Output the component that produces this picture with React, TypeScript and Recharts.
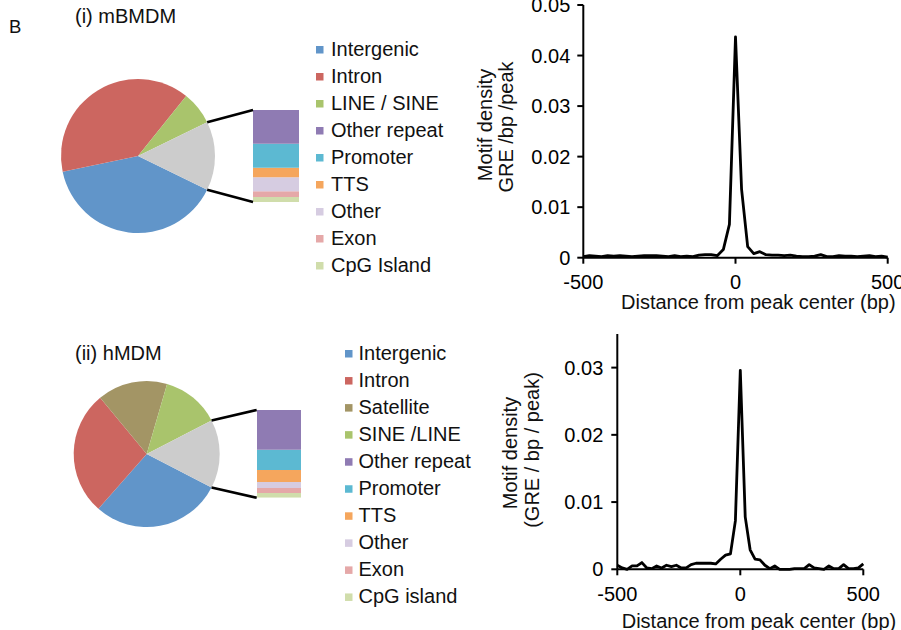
import React from 'react';
import { PieChart, Pie, Cell, BarChart, Bar, XAxis, YAxis, LineChart, Line } from 'recharts';

const FONT = '"Liberation Sans", Arial, Helvetica, sans-serif';
const INK = '#111';

// ---------- (i) mBMDM genomic distribution ----------
const mbmdmPieLabels = ['Intergenic', 'Intron', 'LINE / SINE'];
const mbmdmPieValues = [39.5, 39.1, 7.0];
const mbmdmPieColors = ['#6195C9', '#CC6660', '#A9C46C'];
const mbmdmBarLabels = ['Other repeat', 'Promoter', 'TTS', 'Other', 'Exon', 'CpG Island'];
const mbmdmBarValues = [5.3, 3.8, 1.5, 2.2, 0.9, 0.8];

// ---------- (ii) hMDM genomic distribution ----------
const hmdmPieLabels = ['Intergenic', 'Intron', 'Satellite', 'SINE /LINE'];
const hmdmPieValues = [28.9, 27.5, 15.5, 12.9];
const hmdmPieColors = ['#6195C9', '#CC6660', '#A39565', '#A9C46C'];
const hmdmBarLabels = ['Other repeat', 'Promoter', 'TTS', 'Other', 'Exon', 'CpG island'];
const hmdmBarValues = [6.9, 3.5, 2.1, 1.0, 0.9, 0.8];

const barColors = ['#8F7BB3', '#5CB9D2', '#F5A65D', '#D6CCE1', '#E5A8A8', '#D0DDAB'];
const otherColor = '#CCCCCC';

// ---------- Motif density profiles ----------
const distanceBp = [
  -500, -480, -460, -440, -420, -400, -380, -360, -340, -320, -300, -280, -260, -240, -220, -200,
  -180, -160, -140, -120, -100, -80, -60, -40, -20, 0, 20, 40, 60, 80, 100, 120, 140, 160, 180,
  200, 220, 240, 260, 280, 300, 320, 340, 360, 380, 400, 420, 440, 460, 480, 500,
];
const mbmdmDensity = [
  0.0002, 0.0004, 0.0003, 0.0002, 0.0004, 0.0003, 0.0004, 0.0003, 0.0002, 0.0003, 0.0004, 0.0004,
  0.0004, 0.0003, 0.0002, 0.0004, 0.0002, 0.0003, 0.0002, 0.0005, 0.0006, 0.0006, 0.0004, 0.0016,
  0.0066, 0.0437, 0.0135, 0.0022, 0.0008, 0.0012, 0.0006, 0.0005, 0.0005, 0.0004, 0.0005, 0.0003,
  0.0002, 0.0002, 0.0003, 0.0006, 0.0002, 0.0002, 0.0004, 0.0003, 0.0003, 0.0002, 0.0003, 0.0004,
  0.0002, 0.0003, 0.0001,
];
const hmdmDensity = [
  0.0006, 0.0002, 0.0, 0.0005, 0.0005, 0.001, 0.0002, 0.0001, 0.0005, 0.0002, 0.0006, 0.0004,
  0.0006, 0.0002, 0.0002, 0.0007, 0.0009, 0.0009, 0.0009, 0.0009, 0.0008, 0.0015, 0.0021, 0.0023,
  0.0072, 0.0296, 0.0078, 0.0029, 0.0015, 0.0014, 0.0006, 0.0001, 0.0005, 0.0, 0.0, 0.0, 0.0001,
  0.0001, 0.0001, 0.0007, 0.0002, 0.0001, 0.0, 0.0005, 0.0001, 0.0001, 0.0007, 0.0001, 0.0001,
  0.0002, 0.0008,
];
const xTicks = [-500, 0, 500];
const mbmdmYTicks = [0, 0.01, 0.02, 0.03, 0.04, 0.05];
const hmdmYTicks = [0, 0.01, 0.02, 0.03];

const axisStyle = { stroke: '#000', strokeWidth: 2 };
const tickStyle = { fill: '#000', fontSize: 20, fontFamily: FONT };

type Geo = {
  pieLeft: number; pieTop: number; pieW: number; pieH: number; cx: number; cy: number; r: number;
  barLeft: number; barTop: number; barW: number; barH: number;
  sqX: number; textX: number; legY0: number; legStep: number;
};

function PiePanel(props: {
  pieLabels: string[]; pieValues: number[]; pieColors: string[];
  barLabels: string[]; barValues: number[]; g: Geo;
}) {
  const { pieLabels, pieValues, pieColors, barLabels, barValues, g } = props;
  const otherSum = barValues.reduce((a, b) => a + b, 0);
  const total = pieValues.reduce((a, b) => a + b, 0) + otherSum;
  const half = (otherSum / total) * 180;
  const pieData = [
    ...pieLabels.map((l, i) => ({ name: l, value: pieValues[i], color: pieColors[i] })),
    { name: 'Other', value: otherSum, color: otherColor },
  ];
  const barRow: Record<string, any> = { name: 'breakdown' };
  barLabels.forEach((_, i) => { barRow['s' + i] = barValues[i]; });
  const order = barLabels.map((_, i) => i).reverse();

  const rad = (half * Math.PI) / 180;
  const ax = g.pieLeft + g.cx + g.r * Math.cos(rad);
  const ayTop = g.pieTop + g.cy - g.r * Math.sin(rad);
  const ayBot = g.pieTop + g.cy + g.r * Math.sin(rad);

  const legend = [
    ...pieLabels.map((l, i) => ({ l, c: pieColors[i] })),
    ...barLabels.map((l, i) => ({ l, c: barColors[i] })),
  ];

  return (
    <>
      <div style={{ position: 'absolute', left: g.pieLeft, top: g.pieTop }}>
        <PieChart width={g.pieW} height={g.pieH} margin={{ top: 0, right: 0, bottom: 0, left: 0 }}>
          <Pie
            data={pieData}
            dataKey="value"
            cx={g.cx}
            cy={g.cy}
            outerRadius={g.r}
            innerRadius={0}
            startAngle={-half}
            endAngle={-half - 360}
            stroke="none"
            isAnimationActive={false}
          >
            {pieData.map((d, i) => (
              <Cell key={i} fill={d.color} />
            ))}
          </Pie>
        </PieChart>
      </div>
      <div style={{ position: 'absolute', left: g.barLeft, top: g.barTop }}>
        <BarChart
          width={g.barW}
          height={g.barH}
          data={[barRow]}
          margin={{ top: 0, right: 0, bottom: 0, left: 0 }}
          barCategoryGap={0}
          barGap={0}
        >
          <XAxis dataKey="name" hide />
          <YAxis hide domain={[0, otherSum]} allowDataOverflow />
          {order.map((i) => (
            <Bar key={i} dataKey={'s' + i} stackId="a" fill={barColors[i]} isAnimationActive={false} />
          ))}
        </BarChart>
      </div>
      <svg
        width={901}
        height={630}
        style={{ position: 'absolute', left: 0, top: 0, pointerEvents: 'none', overflow: 'visible' }}
      >
        <line x1={ax} y1={ayTop} x2={g.barLeft} y2={g.barTop} stroke="#000" strokeWidth={2.6} />
        <line x1={ax} y1={ayBot} x2={g.barLeft} y2={g.barTop + g.barH} stroke="#000" strokeWidth={2.6} />
        {legend.map((it, i) => {
          const cy = g.legY0 + i * g.legStep;
          return (
            <g key={i}>
              <rect x={g.sqX} y={cy - 3.5} width={7.5} height={7.5} fill={it.c} />
              <text x={g.textX} y={cy + 6.5} fontSize={20} fontFamily={FONT} fill={INK}>
                {it.l}
              </text>
            </g>
          );
        })}
      </svg>
    </>
  );
}

function Profile(props: {
  data: { x: number; y: number }[]; left: number; top: number; w: number; h: number;
  margin: { top: number; right: number; bottom: number; left: number };
  yAxisW: number; xAxisH: number; yDomain: [number, number]; yTicks: number[]; xTickMargin: number; yTickMargin: number;
}) {
  const p = props;
  return (
    <div style={{ position: 'absolute', left: p.left, top: p.top }}>
      <LineChart width={p.w} height={p.h} data={p.data} margin={p.margin}>
        <XAxis
          type="number"
          dataKey="x"
          domain={[-500, 500]}
          ticks={xTicks}
          interval={0}
          height={p.xAxisH}
          tickSize={6}
          tickMargin={p.xTickMargin}
          axisLine={axisStyle}
          tickLine={axisStyle}
          tick={tickStyle}
        />
        <YAxis
          type="number"
          domain={p.yDomain}
          ticks={p.yTicks}
          interval={0}
          width={p.yAxisW}
          tickSize={6}
          tickMargin={p.yTickMargin}
          axisLine={axisStyle}
          tickLine={axisStyle}
          tick={tickStyle}
        />
        <Line
          dataKey="y"
          type="linear"
          stroke="#000"
          strokeWidth={2.8}
          dot={false}
          isAnimationActive={false}
          strokeLinejoin="round"
        />
      </LineChart>
    </div>
  );
}

export default function App() {
  const mbmdmLine = distanceBp.map((x, i) => ({ x, y: mbmdmDensity[i] }));
  const hmdmLine = distanceBp.map((x, i) => ({ x, y: hmdmDensity[i] }));

  const topGeo: Geo = {
    pieLeft: 0, pieTop: 0, pieW: 310, pieH: 300, cx: 138, cy: 156, r: 77,
    barLeft: 253, barTop: 110, barW: 46, barH: 92,
    sqX: 316, textX: 331, legY0: 49.5, legStep: 27,
  };
  const botGeo: Geo = {
    pieLeft: 0, pieTop: 320, pieW: 310, pieH: 310, cx: 146.7, cy: 134, r: 73,
    barLeft: 256.7, barTop: 410, barW: 44.3, barH: 87.7,
    sqX: 345, textX: 358.5, legY0: 353.5, legStep: 27.05,
  };

  return (
    <div
      style={{
        position: 'absolute', left: 0, top: 0, width: 901, height: 630,
        background: '#fff', overflow: 'hidden', fontFamily: FONT,
      }}
    >
      <PiePanel
        pieLabels={mbmdmPieLabels} pieValues={mbmdmPieValues} pieColors={mbmdmPieColors}
        barLabels={mbmdmBarLabels} barValues={mbmdmBarValues} g={topGeo}
      />
      <PiePanel
        pieLabels={hmdmPieLabels} pieValues={hmdmPieValues} pieColors={hmdmPieColors}
        barLabels={hmdmBarLabels} barValues={hmdmBarValues} g={botGeo}
      />

      <Profile
        data={mbmdmLine} left={460} top={0} w={441} h={300}
        margin={{ top: 5, right: 13.3, bottom: 0, left: 0 }}
        yAxisW={123.3} xAxisH={42.3} yDomain={[0, 0.05]} yTicks={mbmdmYTicks}
        xTickMargin={11} yTickMargin={7}
      />
      <Profile
        data={hmdmLine} left={460} top={320} w={441} h={310}
        margin={{ top: 14, right: 37.7, bottom: 0, left: 0 }}
        yAxisW={157.3} xAxisH={60.7} yDomain={[0, 0.035]} yTicks={hmdmYTicks}
        xTickMargin={11} yTickMargin={8}
      />

      <svg
        width={901}
        height={630}
        style={{ position: 'absolute', left: 0, top: 0, pointerEvents: 'none' }}
      >
        <text x={9} y={33} fontSize={18.5} fontFamily={FONT} fill={INK}>B</text>
        <text x={75} y={23.3} fontSize={20} fontFamily={FONT} fill={INK}>(i) mBMDM</text>
        <text x={75} y={360} fontSize={20} fontFamily={FONT} fill={INK}>(ii) hMDM</text>

        <text transform="translate(485,125) rotate(-90)" textAnchor="middle" dominantBaseline="central"
          fontSize={20} fontFamily={FONT} fill={INK}>Motif density</text>
        <text transform="translate(505.5,127) rotate(-90)" textAnchor="middle" dominantBaseline="central"
          fontSize={20} fontFamily={FONT} fill={INK}>GRE /bp /peak</text>
        <text x={621} y={309} fontSize={20} fontFamily={FONT} fill={INK}>Distance from peak center (bp)</text>

        <text transform="translate(510,453) rotate(-90)" textAnchor="middle" dominantBaseline="central"
          fontSize={20} fontFamily={FONT} fill={INK}>Motif density</text>
        <text transform="translate(531.7,450) rotate(-90)" textAnchor="middle" dominantBaseline="central"
          fontSize={20} fontFamily={FONT} fill={INK}>(GRE / bp / peak)</text>
        <text x={621.7} y={628} fontSize={20} fontFamily={FONT} fill={INK}>Distance from peak center (bp)</text>
      </svg>
    </div>
  );
}
